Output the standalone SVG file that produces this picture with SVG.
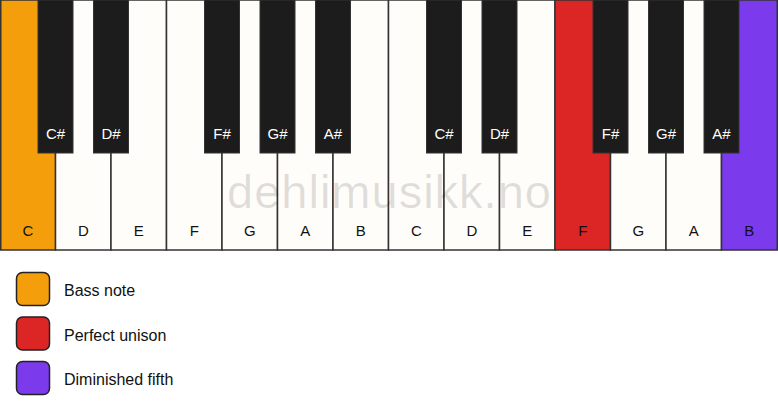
<svg xmlns="http://www.w3.org/2000/svg" width="778" height="417" viewBox="0 0 778 417">
<style>
.w{fill:#fffdf9;stroke:#333;stroke-width:1.5}
.b{fill:#1c1c1c;stroke:#333;stroke-width:1}
.lw{font-family:"Liberation Sans",Arial,sans-serif;font-size:15px;fill:#111;text-anchor:middle}
.lb{font-family:"Liberation Sans",Arial,sans-serif;font-size:15px;fill:#fff;text-anchor:middle}
.lg{font-family:"Liberation Sans",Arial,sans-serif;font-size:16px;fill:#111}
.sw{stroke:#222;stroke-width:1.5}
</style>
<rect width="778" height="417" fill="#fff"/>
<g id="white-keys">
<g id="k-C1"><rect class="w" x="0.75" y="0" width="54.8" height="250" style="fill:#f59e0b"/><text class="lw" x="28" y="236">C</text></g>
<g id="k-D1"><rect class="w" x="55.5" y="0" width="55.5" height="250"/><text class="lw" x="83.3" y="236">D</text></g>
<g id="k-E1"><rect class="w" x="111" y="0" width="55.5" height="250"/><text class="lw" x="138.8" y="236">E</text></g>
<g id="k-F1"><rect class="w" x="166.5" y="0" width="55.5" height="250"/><text class="lw" x="194.3" y="236">F</text></g>
<g id="k-G1"><rect class="w" x="222" y="0" width="55.5" height="250"/><text class="lw" x="249.8" y="236">G</text></g>
<g id="k-A1"><rect class="w" x="277.5" y="0" width="55.5" height="250"/><text class="lw" x="305.3" y="236">A</text></g>
<g id="k-B1"><rect class="w" x="333" y="0" width="55.5" height="250"/><text class="lw" x="360.8" y="236">B</text></g>
<g id="k-C2"><rect class="w" x="388.5" y="0" width="55.5" height="250"/><text class="lw" x="416.3" y="236">C</text></g>
<g id="k-D2"><rect class="w" x="444" y="0" width="55.5" height="250"/><text class="lw" x="471.8" y="236">D</text></g>
<g id="k-E2"><rect class="w" x="499.5" y="0" width="55.5" height="250"/><text class="lw" x="527.3" y="236">E</text></g>
<g id="k-F2"><rect class="w" x="555" y="0" width="55.5" height="250" style="fill:#dc2626"/><text class="lw" x="582.8" y="236">F</text></g>
<g id="k-G2"><rect class="w" x="610.5" y="0" width="55.5" height="250"/><text class="lw" x="638.3" y="236">G</text></g>
<g id="k-A2"><rect class="w" x="666" y="0" width="55.5" height="250"/><text class="lw" x="693.8" y="236">A</text></g>
<g id="k-B2"><rect class="w" x="721.5" y="0" width="55.75" height="250" style="fill:#7c3aed"/><text class="lw" x="749.3" y="236">B</text></g>
</g>
<text x="389.5" y="208" font-family="Liberation Sans,Arial,sans-serif" font-size="47" letter-spacing="1" fill="#000" fill-opacity="0.12" text-anchor="middle">dehlimusikk.no</text>
<g id="black-keys">
<g id="k-Cs1"><rect class="b" x="38" y="0" width="35" height="153"/><text class="lb" x="55.5" y="139">C#</text></g>
<g id="k-Ds1"><rect class="b" x="93.5" y="0" width="35" height="153"/><text class="lb" x="111" y="139">D#</text></g>
<g id="k-Fs1"><rect class="b" x="204.5" y="0" width="35" height="153"/><text class="lb" x="222" y="139">F#</text></g>
<g id="k-Gs1"><rect class="b" x="260" y="0" width="35" height="153"/><text class="lb" x="277.5" y="139">G#</text></g>
<g id="k-As1"><rect class="b" x="315.5" y="0" width="35" height="153"/><text class="lb" x="333" y="139">A#</text></g>
<g id="k-Cs2"><rect class="b" x="426.5" y="0" width="35" height="153"/><text class="lb" x="444" y="139">C#</text></g>
<g id="k-Ds2"><rect class="b" x="482" y="0" width="35" height="153"/><text class="lb" x="499.5" y="139">D#</text></g>
<g id="k-Fs2"><rect class="b" x="593" y="0" width="35" height="153"/><text class="lb" x="610.5" y="139">F#</text></g>
<g id="k-Gs2"><rect class="b" x="648.5" y="0" width="35" height="153"/><text class="lb" x="666" y="139">G#</text></g>
<g id="k-As2"><rect class="b" x="704" y="0" width="35" height="153"/><text class="lb" x="721.5" y="139">A#</text></g>
</g>
<g id="legend">
<g id="lg-bass"><rect class="sw" x="16.5" y="272.5" width="33" height="33" rx="6" fill="#f59e0b"/><text class="lg" x="64" y="296">Bass note</text></g>
<g id="lg-unison"><rect class="sw" x="16.5" y="317" width="33" height="33" rx="6" fill="#dc2626"/><text class="lg" x="64" y="340.5">Perfect unison</text></g>
<g id="lg-dim5"><rect class="sw" x="16.5" y="361.5" width="33" height="33" rx="6" fill="#7c3aed"/><text class="lg" x="64" y="385">Diminished fifth</text></g>
</g>
</svg>
